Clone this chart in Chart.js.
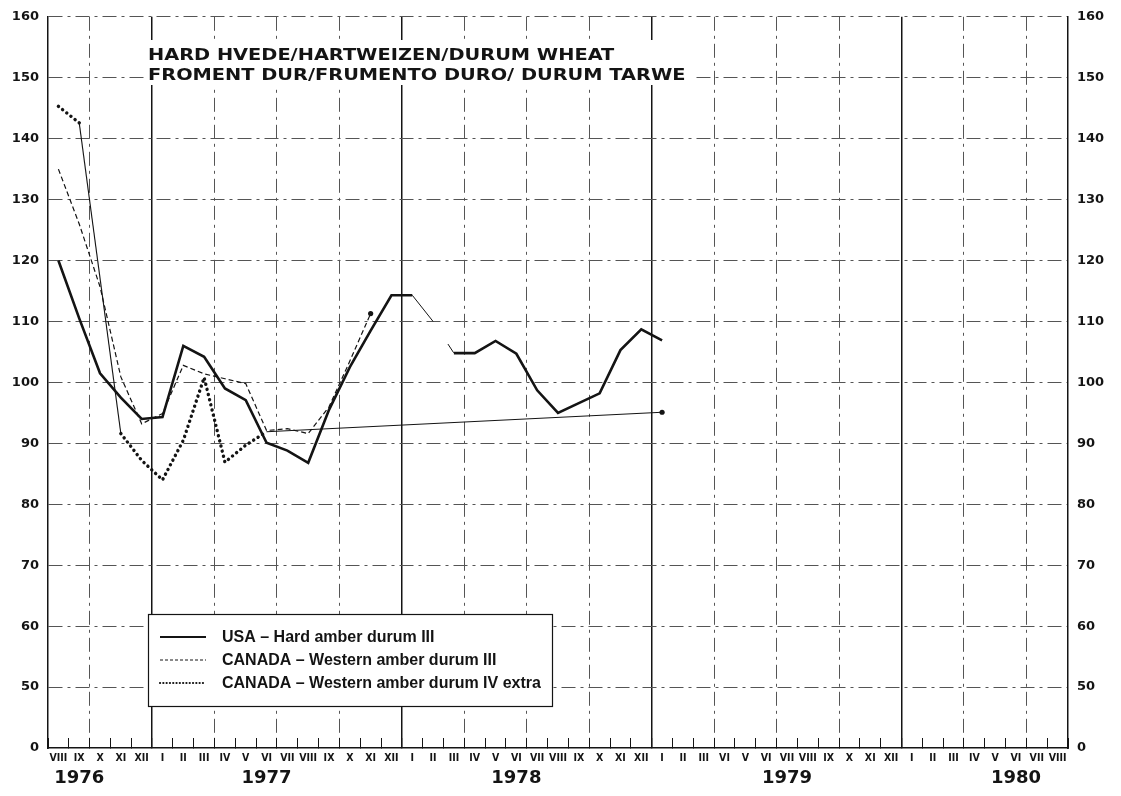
<!DOCTYPE html>
<html>
<head>
<meta charset="utf-8">
<script src="https://cdn.jsdelivr.net/npm/chart.js@4"></script>
<style>
html, body { margin: 0; padding: 0; background: #fff; }
#wrap { width: 1121px; height: 796px; position: relative; }
</style>
</head>
<body>
<div id="wrap"><canvas id="myChart"></canvas></div>
<script>
// months from VIII 1976 to VIII 1980 (the original prints "VI" for IV 1979)
var months = ['VIII', 'IX', 'X', 'XI', 'XII',
    'I', 'II', 'III', 'IV', 'V', 'VI', 'VII', 'VIII', 'IX', 'X', 'XI', 'XII',
    'I', 'II', 'III', 'IV', 'V', 'VI', 'VII', 'VIII', 'IX', 'X', 'XI', 'XII',
    'I', 'II', 'III', 'VI', 'V', 'VI', 'VII', 'VIII', 'IX', 'X', 'XI', 'XII',
    'I', 'II', 'III', 'IV', 'V', 'VI', 'VII', 'VIII'];
var years = ['1976', '1977', '1978', '1979', '1980'];
var yearAt = [1, 10, 22, 35, 46];
var yTickLabels = ['0', '50', '60', '70', '80', '90', '100', '110', '120', '130', '140', '150', '160'];

var usa = [120, 110.5, 101.5, 97.5, 94,
    94.3, 106, 104.2, 99, 97.1, 90.1, 88.8, 86.8, 95.5, 102.5, 108.5, 114.3,
    114.3, 110, 104.8, 104.8, 106.8, 104.7, 98.7, 95, 96.6, 98.2, 105.3, 108.7,
    106.9];
var canada3 = [135, 126, 115.7, 100.9, 93.2,
    94.9, 102.8, 101.4, 100.6, 99.8, 92.1, 92.4, 91.6, 96, 103.5, 111.3];
var canada4 = [145.3, 142.6, null, 91.6, 87.2,
    84, 90.5, 100.8, 86.9, 89.7, 91.9, null, null, null, null, null, null,
    null, null, null, null, null, null, null, null, null, null, null, null,
    95.1];

var titleLines = ['HARD HVEDE/HARTWEIZEN/DURUM WHEAT', 'FROMENT DUR/FRUMENTO DURO/ DURUM TARWE'];

var ink = '#141414';
var gridInk = '#555';

function lastIndex(arr) {
    for (var i = arr.length - 1; i >= 0; i--) if (arr[i] != null) return i;
    return -1;
}
function endDot(arr) {
    var last = lastIndex(arr);
    return function (ctx) { return ctx.dataIndex === last ? 2.6 : 0; };
}
// segment touching a missing month
function isGap(ctx) { return ctx.p0.skip || ctx.p1.skip; }

// boxes drawn over the grid for title and legend
var overlay = {
    id: 'overlay',
    beforeDatasetsDraw: function (chart) {
        var c = chart.ctx, a = chart.chartArea;
        c.save();
        // title (wide lettering -> stretched a bit)
        c.fillStyle = '#fff';
        c.fillRect(a.left + 97, 40, 548, 45);
        c.fillStyle = ink;
        c.font = 'bold 16px "DejaVu Sans"';
        c.textBaseline = 'alphabetic';
        c.save();
        c.translate(a.left + 100, 0);
        c.scale(1.21, 1);
        c.fillText(titleLines[0], 0, 60);
        c.fillText(titleLines[1], 0, 80);
        c.restore();
        // legend
        var lx = a.left + 100, ly = 614, lw = 404, lh = 92;
        c.fillStyle = '#fff';
        c.fillRect(lx, ly, lw, lh);
        c.strokeStyle = ink;
        c.lineWidth = 1.2;
        c.strokeRect(lx + 0.5, ly + 0.5, lw, lh);
        c.font = 'bold 16px "Liberation Sans"';
        c.textBaseline = 'middle';
        chart.data.datasets.forEach(function (ds, i) {
            var y = ly + 23 + i * 23;
            c.beginPath();
            c.strokeStyle = ink;
            c.lineWidth = ds.legendWidth;
            c.lineCap = ds.legendCap;
            c.setLineDash(ds.legendDash);
            c.moveTo(lx + 12, y);
            c.lineTo(lx + 58, y);
            c.stroke();
            c.setLineDash([]);
            c.fillStyle = ink;
            c.fillText(ds.label, lx + 74, y + 1);
        });
        c.restore();
    }
};

var ctx = document.getElementById('myChart').getContext('2d');
var chart = new Chart(ctx, {
    type: 'line',
    data: {
        labels: months,
        datasets: [{
            label: 'USA \u2013 Hard amber durum III',
            data: usa,
            borderColor: ink,
            borderWidth: 2.6,
            pointRadius: 0,
            legendWidth: 2, legendDash: [], legendCap: 'butt',
            segment: {
                // I-II 1978 thin, then broken until III
                borderWidth: function (ctx) { return (ctx.p0DataIndex === 17 || ctx.p0DataIndex === 18) ? 1 : undefined; },
                borderDash: function (ctx) { return ctx.p0DataIndex === 18 ? [0, 27, 10] : undefined; }
            }
        }, {
            label: 'CANADA \u2013 Western amber durum III',
            data: canada3,
            borderColor: ink,
            backgroundColor: ink,
            borderWidth: 1.2,
            borderDash: [5, 3],
            pointRadius: endDot(canada3),
            pointBorderWidth: 0,
            legendWidth: 1, legendDash: [3, 2], legendCap: 'butt'
        }, {
            label: 'CANADA \u2013 Western amber durum IV extra',
            data: canada4,
            borderColor: ink,
            backgroundColor: ink,
            borderWidth: 3.4,
            borderDash: [0.1, 5.2],
            borderCapStyle: 'round',
            spanGaps: true,
            pointRadius: endDot(canada4),
            pointBorderWidth: 0,
            legendWidth: 2.2, legendDash: [0.1, 3.2], legendCap: 'round',
            segment: {
                borderWidth: function (ctx) { return isGap(ctx) ? 1.1 : undefined; },
                borderDash: function (ctx) { return isGap(ctx) ? [] : undefined; },
                borderCapStyle: function (ctx) { return isGap(ctx) ? 'butt' : undefined; }
            }
        }]
    },
    options: {
        responsive: true,
        maintainAspectRatio: false,
        animation: false,
        layout: { padding: { top: 14, right: 0, left: 0, bottom: 0 } },
        plugins: { legend: { display: false }, tooltip: { enabled: false } },
        scales: {
            x: {
                type: 'category',
                offset: true,
                grid: {
                    offset: true,
                    color: function (c) {
                        var l = months[c.index];
                        if (l === 'I') return ink;
                        if (l === 'IV' || l === 'VII' || l === 'X') return gridInk;
                        if (c.index === 32) return gridInk;
                        return 'rgba(0,0,0,0)';
                    },
                    lineWidth: function (c) { return months[c.index] === 'I' ? 1.5 : 1; },
                    drawTicks: true,
                    tickLength: -10,
                    tickColor: ink,
                    tickWidth: 1
                },
                border: {
                    color: ink, width: 1.5,
                    dash: function (c) {
                        var l = months[c.index];
                        if (c.index === undefined || l === 'I') return [];
                        return [14, 5, 3, 5];
                    }
                },
                ticks: {
                    autoSkip: false, maxRotation: 0, padding: 14, color: ink,
                    font: { family: '"Liberation Sans Narrow", "DejaVu Sans Condensed"', size: 10.5, weight: 'bold' }
                },
                afterFit: function (s) { s.height = 20; }
            },
            x2: {
                type: 'category',
                labels: months,
                position: 'bottom',
                offset: true,
                weight: 1,
                grid: { display: false, drawTicks: false },
                border: { display: false },
                ticks: {
                    autoSkip: false, maxRotation: 0, padding: 0, color: ink,
                    font: { family: '"DejaVu Sans"', size: 18, weight: 'bold' },
                    callback: function (v, i) {
                        var k = yearAt.indexOf(i);
                        return k >= 0 ? years[k] : '';
                    }
                },
                afterFit: function (s) { s.height = 28; }
            },
            y: {
                min: 40, max: 160,
                grid: {
                    color: function (c) { return c.tick && c.tick.value === 40 ? 'rgba(0,0,0,0)' : gridInk; },
                    drawTicks: false
                },
                border: { color: ink, width: 1.5, dash: function (c) { return c.index === undefined ? [] : [14, 5, 3, 5]; } },
                ticks: {
                    stepSize: 10, padding: 9, color: ink,
                    font: { family: '"DejaVu Sans"', size: 13, weight: 'bold' },
                    callback: function (v, i) { return yTickLabels[i]; }
                },
                afterFit: function (s) { s.width = 48; }
            },
            y2: {
                position: 'right',
                min: 40, max: 160,
                grid: { drawOnChartArea: false, drawTicks: false },
                border: { color: ink, width: 1.5 },
                ticks: {
                    stepSize: 10, padding: 9, color: ink,
                    font: { family: '"DejaVu Sans"', size: 13, weight: 'bold' },
                    callback: function (v, i) { return yTickLabels[i]; }
                },
                afterFit: function (s) { s.width = 53; }
            }
        }
    },
    plugins: [overlay]
});
</script>
</body>
</html>
